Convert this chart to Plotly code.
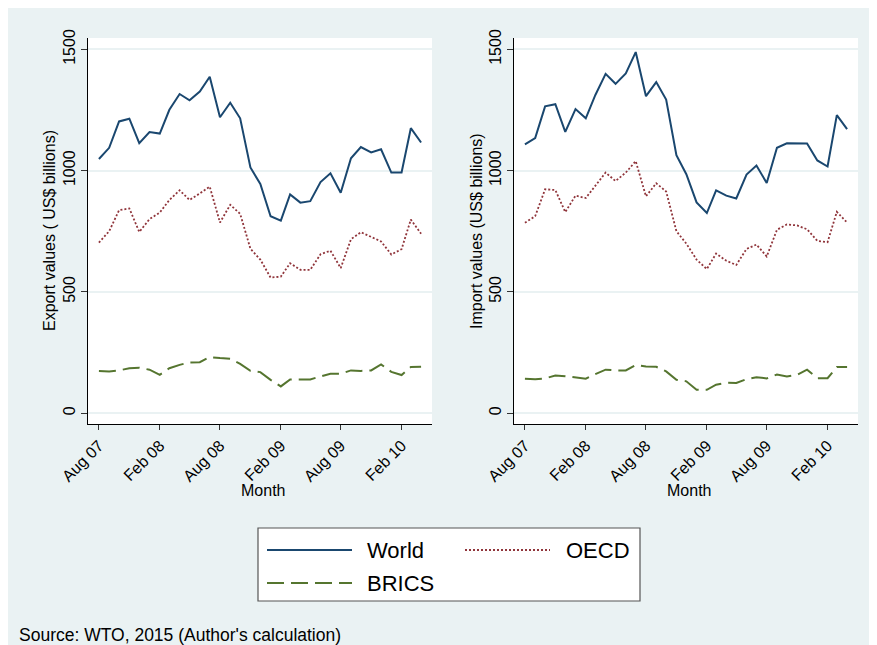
import pandas as pd
import plotly.graph_objects as go

# Monthly values, Aug 2007 - Apr 2010 (US$ billions)
months = pd.date_range("2007-08-01", periods=33, freq="MS")

export_world = [1048, 1094, 1203, 1214, 1113, 1159, 1153, 1251, 1316, 1290, 1326, 1387, 1220, 1280, 1216,
                1013, 945, 812, 794, 902, 868, 874, 953, 989, 909, 1051, 1097, 1075, 1088, 992, 992, 1175, 1116]
export_oecd = [703, 750, 837, 844, 747, 800, 827, 879, 919, 879, 906, 934, 786, 859, 822,
               678, 633, 559, 563, 618, 591, 591, 655, 670, 598, 717, 746, 728, 708, 654, 676, 798, 740]
export_brics = [174, 172, 176, 185, 187, 179, 158, 185, 199, 209, 210, 231, 227, 224, 203,
                174, 169, 137, 110, 139, 139, 139, 151, 162, 162, 176, 174, 176, 201, 170, 157, 190, 191]

import_world = [1108, 1134, 1265, 1274, 1160, 1254, 1216, 1312, 1399, 1358, 1401, 1489, 1307, 1365, 1293,
                1064, 985, 869, 825, 919, 897, 885, 984, 1021, 949, 1094, 1113, 1111, 1112, 1042, 1017, 1229, 1171]
import_oecd = [785, 812, 923, 920, 829, 897, 887, 939, 992, 957, 992, 1039, 894, 948, 914,
               750, 699, 633, 594, 658, 628, 611, 677, 695, 646, 756, 778, 774, 758, 710, 705, 830, 786]
import_brics = [142, 140, 143, 155, 152, 148, 142, 161, 179, 176, 176, 198, 192, 191, 172,
                137, 131, 96, 96, 117, 125, 124, 140, 148, 143, 159, 151, 158, 179, 144, 144, 190, 190]

tick_dates = ["2007-08-01", "2008-02-01", "2008-08-01", "2009-02-01", "2009-08-01", "2010-02-01"]
tick_text = ["Aug 07", "Feb 08", "Aug 08", "Feb 09", "Aug 09", "Feb 10"]
y_ticks = [0, 500, 1000, 1500]

W, H = 877, 645
OFF = 8  # page body margin: the figure is drawn 8px right/down of the window corner
FONT = "Liberation Sans, Arial, sans-serif"
BG = "#eaf2f3"
C = {"World": "#1a476f", "OECD": "#90353b", "BRICS": "#55752f"}
DASH = {"World": "solid", "OECD": "2px,2px", "BRICS": "17px,7px"}


def px(x):
    return (x - OFF) / W


def py(y):
    return 1 - (y - OFF) / H


fig = go.Figure()
panels = [("x", "y", export_world, export_oecd, export_brics),
          ("x2", "y2", import_world, import_oecd, import_brics)]
for xa, ya, w, o, b in panels:
    for name, vals in (("World", w), ("OECD", o), ("BRICS", b)):
        fig.add_trace(go.Scatter(x=months, y=vals, name=name, mode="lines", xaxis=xa, yaxis=ya,
                                 showlegend=False,
                                 line=dict(color=C[name], width=2 if name != "OECD" else 1.8, dash=DASH[name])))

xcommon = dict(range=["2007-06-29", "2010-05-04"], tickvals=tick_dates, ticktext=tick_text, tickangle=-45,
               ticks="outside", ticklen=5, tickcolor="#333", showgrid=False, zeroline=False,
               showline=True, linecolor="black", linewidth=1, automargin=False,
               tickfont=dict(family=FONT, size=16, color="black"))
ycommon = dict(range=[-45, 1547], tickvals=y_ticks, tickangle=-90, ticks="outside", ticklen=6,
               tickcolor="#333", showgrid=True, gridcolor=BG, gridwidth=2, zeroline=False,
               showline=True, linecolor="black", linewidth=1, automargin=False,
               tickfont=dict(family=FONT, size=16, color="black"))

ydom = [py(424), py(38)]
fig.update_layout(
    width=W, height=H,
    margin=dict(l=0, r=0, t=0, b=0),
    paper_bgcolor=BG, plot_bgcolor="white",
    font=dict(family=FONT, color="black"),
    xaxis=dict(domain=[px(88), px(432)], anchor="y", **xcommon),
    yaxis=dict(domain=ydom, anchor="x", **ycommon),
    xaxis2=dict(domain=[px(514), px(858)], anchor="y2", **xcommon),
    yaxis2=dict(domain=ydom, anchor="x2", **ycommon),
)

shapes = [
    # legend box
    dict(type="rect", xref="paper", yref="paper", x0=px(258), x1=px(640), y0=py(601), y1=py(528),
         fillcolor="white", line=dict(color="#555", width=1.2)),
]
ann = []
legend_items = [("World", 267, 352, 550), ("OECD", 465, 550, 550), ("BRICS", 267, 352, 583)]
for name, x0, x1, yy in legend_items:
    shapes.append(dict(type="line", xref="paper", yref="paper", x0=px(x0), x1=px(x1), y0=py(yy), y1=py(yy),
                       line=dict(color=C[name], width=2 if name != "OECD" else 1.8, dash=DASH[name])))
    tx = 365 if name != "OECD" else 564
    ann.append(dict(text=name, x=px(tx), y=py(yy), xref="paper", yref="paper", xanchor="left",
                    yanchor="middle", showarrow=False, font=dict(family=FONT, size=22, color="black")))

# axis titles
for xc, label in ((49, "Export values ( US$ billions)"), (476, "Import values (US$ billions)")):
    ann.append(dict(text=label, x=px(xc), y=py(231), xref="paper", yref="paper", textangle=-90,
                    xanchor="center", yanchor="middle", showarrow=False,
                    font=dict(family=FONT, size=16, color="black")))
for xc in (263, 689):
    ann.append(dict(text="Month", x=px(xc), y=py(490), xref="paper", yref="paper",
                    xanchor="center", yanchor="middle", showarrow=False,
                    font=dict(family=FONT, size=16, color="black")))
ann.append(dict(text="Source: WTO, 2015 (Author's calculation)", x=px(17), y=py(635), xref="paper", yref="paper",
                xanchor="left", yanchor="middle", showarrow=False,
                font=dict(family=FONT, size=17.5, color="black")))

fig.update_layout(shapes=shapes, annotations=ann)
fig.write_html("out.html")
